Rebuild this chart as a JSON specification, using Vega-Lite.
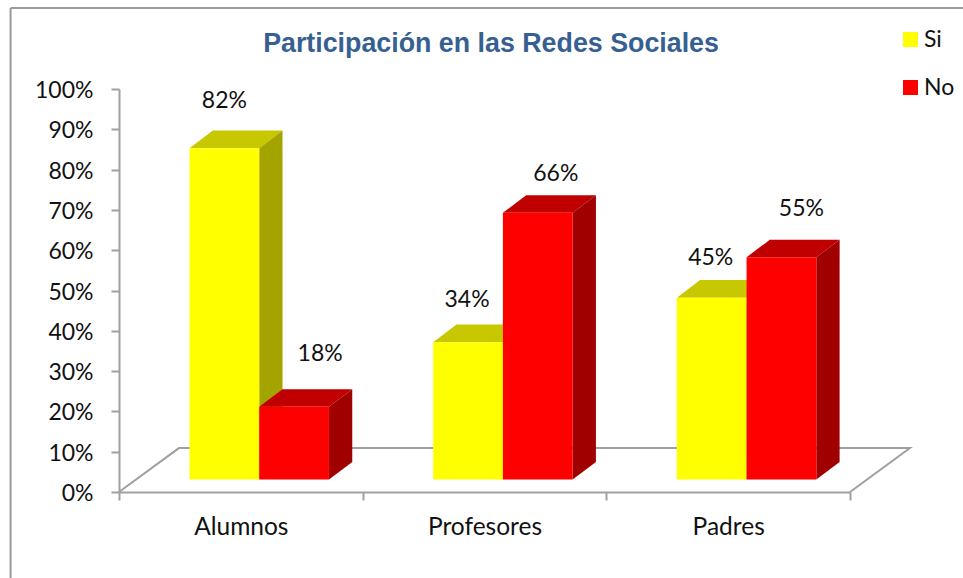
{
"$schema":"https://vega.github.io/schema/vega-lite/v6.json",
"width":731,"height":403,
"autosize":{"type":"none"},
"padding":{"left":119,"top":89,"right":113,"bottom":86},
"background":"white",
"config":{"view":{"stroke":null}},
"title":{"text":"Participación en las Redes Sociales","font":"Liberation Sans","fontSize":26.8,"fontWeight":"bold","color":"#376092","anchor":"middle","frame":"group","dx":6.5,"offset":-51},
"data":{"values":[
{"grupo":"Alumnos","serie":"Si","valor":82},
{"grupo":"Profesores","serie":"Si","valor":34},
{"grupo":"Padres","serie":"Si","valor":45},
{"grupo":"Alumnos","serie":"No","valor":18},
{"grupo":"Profesores","serie":"No","valor":66},
{"grupo":"Padres","serie":"No","valor":55}
]},
"transform":[
{"calculate":"indexof(['Alumnos','Profesores','Padres'],datum.grupo)","as":"gi"},
{"calculate":"datum.gi+0.2893+(datum.serie==='Si'?0:0.2862)","as":"x0"},
{"calculate":"datum.x0+0.2862","as":"x1"},
{"calculate":"3.1","as":"yb"},
{"calculate":"3.1+datum.valor*1.0025","as":"yt"}
],
"resolve":{"scale":{"x":"independent"},"axis":{"y":"independent"}},
"layer":[
{"data":{"values":[{"lado":"izq"}]},
 "transform":[],
 "mark":{"type":"rule","color":"#9a9a9a","strokeWidth":2},
 "encoding":{
  "x":{"datum":-0.445,"type":"quantitative","scale":{"domain":[0,3]},"axis":null},
  "y":{"datum":120.1,"type":"quantitative","scale":{"domain":[0,100]},"axis":null},
  "y2":{"datum":-21.5}
 }},
{"data":{"values":[{"lado":"sup"}]},
 "transform":[],
 "mark":{"type":"rule","color":"#9a9a9a","strokeWidth":2},
 "encoding":{
  "x":{"datum":-0.445,"type":"quantitative","scale":{"domain":[0,3]},"axis":null},
  "x2":{"datum":3.47},
  "y":{"datum":120.1,"type":"quantitative","scale":{"domain":[0,100]},"axis":null}
 }},
{"mark":{"type":"point","opacity":0},
 "encoding":{
  "x":{"field":"grupo","type":"nominal","sort":null,"scale":{"type":"band","paddingInner":0,"paddingOuter":0,"domain":["Alumnos","Profesores","Padres"]},
   "axis":{"title":null,"orient":"bottom","labelAngle":0,"tickBand":"extent","labelFont":"Lato","labelFontSize":24.5,"labelColor":"#111111","labelPadding":15,"tickSize":8,"tickWidth":2,"tickColor":"#a0a0a0","domainColor":"#a0a0a0","domainWidth":2,"grid":false}},
  "y":{"datum":0,"type":"quantitative","scale":{"domain":[0,100]},
   "axis":{"title":null,"values":[0,10,20,30,40,50,60,70,80,90,100],"labelExpr":"datum.value+'%'","labelFont":"Lato","labelFontSize":23,"labelColor":"#111111","labelPadding":18,"labelOffset":1.5,"tickSize":8,"tickWidth":2,"tickColor":"#a0a0a0","domainColor":"#a0a0a0","domainWidth":2,"grid":false}}
 }},
{"data":{"values":[{"u":0,"d":0,"n":0},{"u":0,"d":1,"n":1},{"u":3,"d":1,"n":2},{"u":3,"d":0,"n":3}]},
 "transform":[
  {"calculate":"datum.u+datum.d*0.246","as":"fx"},
  {"calculate":"datum.d*10.9","as":"fy"}
 ],
 "mark":{"type":"line","color":"#a0a0a0","strokeWidth":2},
 "encoding":{
  "x":{"field":"fx","type":"quantitative","scale":{"domain":[0,3]},"axis":null},
  "y":{"field":"fy","type":"quantitative","scale":{"domain":[0,100]},"axis":null},
  "order":{"field":"n"}
 }},
{"transform":[
  {"calculate":"['top','side']","as":"cara"},
  {"flatten":["cara"]},
  {"calculate":"[0,1,2,3]","as":"k"},
  {"flatten":["k"]},
  {"calculate":"datum.cara==='top'?[datum.x0,datum.x1,datum.x1+0.0956,datum.x0+0.0956][datum.k]:[datum.x1,datum.x1+0.0956,datum.x1+0.0956,datum.x1][datum.k]","as":"px"},
  {"calculate":"datum.cara==='top'?[datum.yt,datum.yt,datum.yt+4.37,datum.yt+4.37][datum.k]:[datum.yt,datum.yt+4.37,datum.yb+4.37,datum.yb][datum.k]","as":"py"},
  {"calculate":"datum.serie+'-'+datum.cara","as":"tono"},
  {"calculate":"datum.grupo+datum.serie+datum.cara","as":"poli"}
 ],
 "mark":{"type":"line","strokeWidth":0},
 "encoding":{
  "x":{"field":"px","type":"quantitative","scale":{"domain":[0,3]},"axis":null},
  "y":{"field":"py","type":"quantitative","scale":{"domain":[0,100]},"axis":null},
  "detail":{"field":"poli"},
  "order":{"field":"k"},
  "fill":{"field":"tono","type":"nominal","legend":null,"scale":{"domain":["Si-top","Si-side","No-top","No-side"],"range":["#C8C800","#A4A400","#C00000","#A00000"]}}
 }},
{"mark":{"type":"rect"},
 "encoding":{
  "x":{"field":"x0","type":"quantitative","scale":{"domain":[0,3]},"axis":null},
  "x2":{"field":"x1"},
  "y":{"field":"yb","type":"quantitative","scale":{"domain":[0,100]},"axis":null},
  "y2":{"field":"yt"},
  "color":{"field":"serie","type":"nominal","scale":{"domain":["Si","No"],"range":["#FFFF00","#FF0000"]},
   "legend":{"orient":"none","legendX":780,"legendY":-61,"title":null,"symbolType":"square","symbolSize":225,"symbolStrokeWidth":0,"labelFont":"Lato","labelFontSize":23,"labelColor":"#111111","labelOffset":2,"rowPadding":24,"padding":0}}
 }},
{"transform":[
  {"calculate":"({'Alumnos|Si':[0,47],'Alumnos|No':[26,53],'Profesores|Si':[-1,42],'Profesores|No':[18,39],'Padres|Si':[-1,40],'Padres|No':[20,48]})[datum.grupo+'|'+datum.serie]","as":"ajuste"},
  {"calculate":"(datum.x0+datum.x1)/2+datum.ajuste[0]/243.67","as":"lx"},
  {"calculate":"datum.yt+datum.ajuste[1]/4.03","as":"ly"},
  {"calculate":"datum.valor+'%'","as":"etiqueta"}
 ],
 "mark":{"type":"text","font":"Lato","fontSize":23,"color":"#111111","baseline":"middle","align":"center"},
 "encoding":{
  "x":{"field":"lx","type":"quantitative","scale":{"domain":[0,3]},"axis":null},
  "y":{"field":"ly","type":"quantitative","scale":{"domain":[0,100]},"axis":null},
  "text":{"field":"etiqueta"}
 }}
]
}
